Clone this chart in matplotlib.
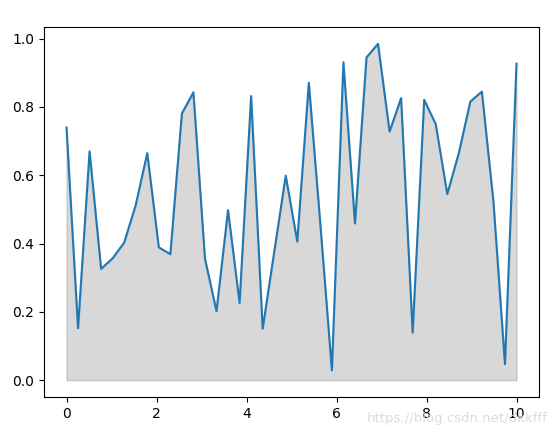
import matplotlib
matplotlib.use('Agg')
import matplotlib.pyplot as plt
import numpy as np

# 40 evenly spaced samples on [0, 10]
x_start, x_end, n_points = 0, 10, 40

y_values = [0.740, 0.152, 0.670, 0.326, 0.357, 0.403, 0.513, 0.665, 0.389, 0.369,
            0.781, 0.843, 0.356, 0.202, 0.498, 0.226, 0.832, 0.151, 0.375, 0.599,
            0.406, 0.871, 0.457, 0.029, 0.931, 0.459, 0.945, 0.985, 0.728, 0.826,
            0.139, 0.821, 0.750, 0.545, 0.665, 0.816, 0.845, 0.523, 0.047, 0.927]

watermark = 'https://blog.csdn.net/dkkfff'


def main():
    x = np.linspace(x_start, x_end, n_points)
    y = np.array(y_values)

    fig = plt.figure(figsize=(5.58, 4.34), dpi=100)
    ax = fig.add_axes([44 / 558, 37 / 434, 495 / 558, 370 / 434])

    ax.fill_between(x, y, color='grey', alpha=0.3)
    ax.plot(x, y, color='#1f77b4')

    fig.text(0.982, 0.028, watermark, color='#d8d8d8', fontsize=9.5,
             ha='right', alpha=0.9)

    fig.savefig('out.png', dpi=100)


if __name__ == '__main__':
    main()
